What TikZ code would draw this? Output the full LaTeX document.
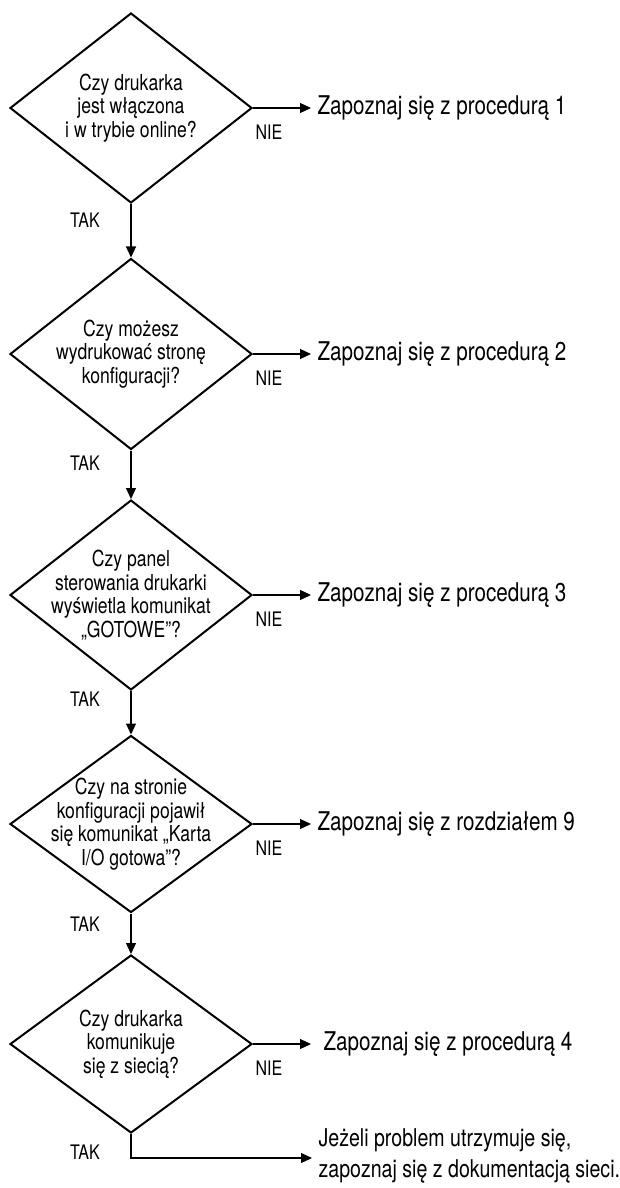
\documentclass[tikz,border=0pt]{standalone}
\usepackage{fontspec}
\setmainfont{TeX Gyre Heros}[FakeStretch=0.8]
\usetikzlibrary{shapes.geometric,arrows.meta}

\tikzset{
  decision/.style={draw, line width=2pt, shape=diamond, inner sep=-30pt,
    minimum width=242pt, align=center, font=\fontsize{22}{23.5}\selectfont},
  answer/.style={anchor=west, inner xsep=6pt, inner ysep=0pt,
    font=\fontsize{25.8}{29}\selectfont},
  yesno/.style={inner sep=0pt, font=\fontsize{20}{22}\selectfont},
}

\begin{document}
\begin{tikzpicture}[x=1pt, y=-1pt, >={Triangle[length=11pt,width=10pt]}, line width=1.1pt]
  \useasboundingbox (0,0) rectangle (619,1188);

  % questions
  \node [decision, minimum height=190pt] (q1) at (131,108) {Czy drukarka\\jest włączona\\i w trybie online?};
  \node [decision, minimum height=191pt] (q2) at (131,354) {Czy możesz\\wydrukować stronę\\konfiguracji?};
  \node [decision, minimum height=190pt] (q3) at (131,595) {Czy panel\\sterowania drukarki\\wyświetla komunikat\\„GOTOWE”?};
  \node [decision, minimum height=177pt] (q4) at (131,824) {Czy na stronie\\konfiguracji pojawił\\się komunikat „Karta\\I/O gotowa”?};
  \node [decision, minimum height=178pt] (q5) at (131,1044) {Czy drukarka\\komunikuje\\się z siecią?};

  % answers
  \node [answer] (a1) at (311,108)  {Zapoznaj się z procedurą 1};
  \node [answer] (a2) at (311,354)  {Zapoznaj się z procedurą 2};
  \node [answer] (a3) at (311,595)  {Zapoznaj się z procedurą 3};
  \node [answer] (a4) at (311,824)  {Zapoznaj się z rozdziałem 9};
  \node [answer, inner xsep=12pt] (a5) at (311,1044) {Zapoznaj się z procedurą 4};
  \node [answer, align=left, font=\fontsize{24.5}{31}\selectfont] (a6) at (312,1156) {Jeżeli problem utrzymuje się,\\zapoznaj się z dokumentacją sieci.};

  % labels
  \node [yesno] (n1) at (269,132)  {NIE};
  \node [yesno] (n2) at (269,378)  {NIE};
  \node [yesno] (n3) at (269,619)  {NIE};
  \node [yesno] (n4) at (269,848)  {NIE};
  \node [yesno] (n5) at (269,1068) {NIE};
  \node [yesno] (t1) at (85,220)  {TAK};
  \node [yesno] (t2) at (85,463)  {TAK};
  \node [yesno] (t3) at (85,699)  {TAK};
  \node [yesno] (t4) at (85,924)  {TAK};
  \node [yesno] (t5) at (85,1152) {TAK};

  \draw [->] (q1) -- (q2);
  \draw [->] (q2) -- (q3);
  \draw [->] (q3) -- (q4);
  \draw [->] (q4) -- (q5);

  \draw [->] (q1.east) -- (a1.west);
  \draw [->] (q2.east) -- (a2.west);
  \draw [->] (q3.east) -- (a3.west);
  \draw [->] (q4.east) -- (a4.west);
  \draw [->] (q5.east) -- (a5.west);

  \coordinate (corner) at (131,1158);
  \draw [->] (q5) -- (corner) -- (a6.west |- corner);
\end{tikzpicture}
\end{document}
